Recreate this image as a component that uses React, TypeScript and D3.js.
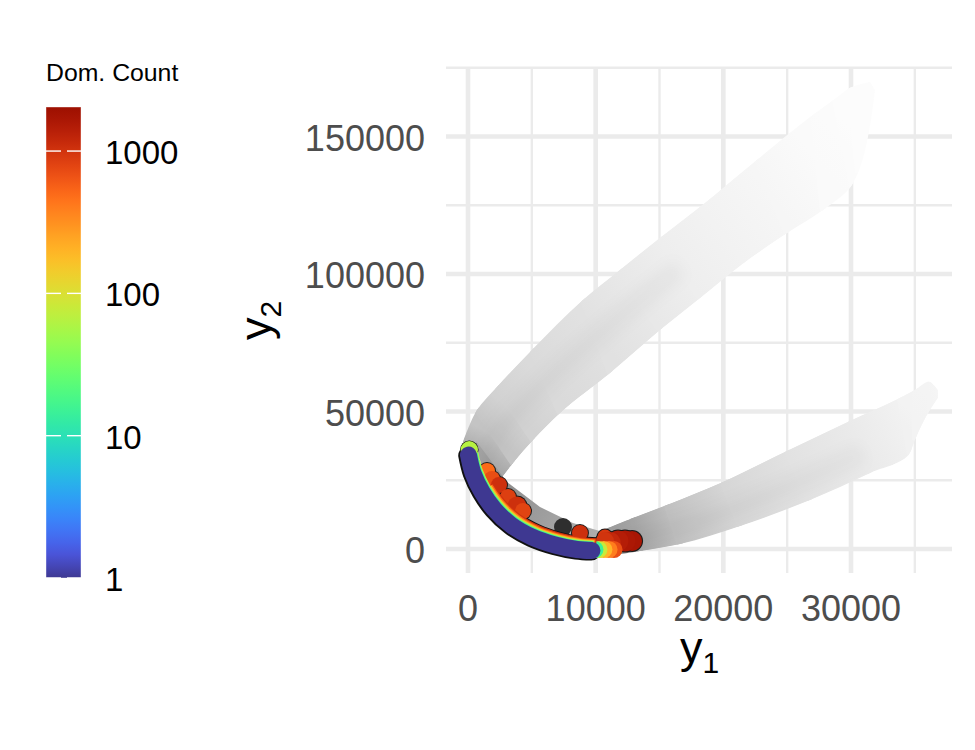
import React from "react";
import * as d3 from "d3";

const xMajor = [0, 10000, 20000, 30000];
const xMinor = [5000, 15000, 25000, 35000];
const yMajor = [0, 50000, 100000, 150000];
const yMinor = [25000, 75000, 125000, 175000];
const legendTicks = [1, 10, 100, 1000];
const legendMax = 2040;
const lowBlue = "#3e3891";

// upper arm of dominated points: edges and gray level at each station
const upperArmTopY1 = [-392, 705, 2270, 5010, 9005, 11900, 15030, 18170, 22630, 27010, 28740, 29900, 31480];
const upperArmTopY2 = [38900, 50540, 58900, 72360, 90540, 101450, 113100, 124350, 141450, 157800, 163600, 167600, 169800];
const upperArmLowY1 = [2505, 3520, 5090, 7200, 11120, 15030, 18170, 21690, 24980, 27800, 30070, 30540, 31870];
const upperArmLowY2 = [25090, 31270, 39630, 49450, 64000, 79630, 91270, 104360, 114900, 123260, 132360, 136700, 166900];
const upperArmGray = [168, 196, 210, 218, 225, 232, 238, 242, 246, 250, 251, 252, 252];

// lower arm
const lowerArmTopY1 = [10570, 12920, 15580, 19970, 24980, 29910, 33830, 35000, 36170, 36800];
const lowerArmTopY2 = [6910, 11270, 16000, 24360, 35630, 46540, 54900, 57800, 60720, 57800];
const lowerArmLowY1 = [9550, 13470, 16600, 21300, 26780, 31480, 34600, 35000, 36170, 36800];
const lowerArmLowY2 = [-3640, -730, 1820, 8360, 17820, 27630, 34900, 39630, 50540, 54900];
const lowerArmGray = [150, 165, 192, 214, 226, 234, 241, 243, 244, 245];

// gray wedge just above the front
const wedgeY1 = [630, 3050, 5640, 8220, 10570, 11300, 10100, 5640, 1640];
const wedgeY2 = [39270, 24360, 15270, 9450, 6180, 3270, -550, 4000, 17090];

// the front
const arcY1 = [40, 390, 1100, 2040, 3370, 5010, 6810, 8530, 9710];
const arcY2 = [34180, 27630, 20730, 14540, 8730, 4360, 1450, -180, -550];
const layerCounts = [1000, 500, 200, 60, 15, 1];
const layerShiftY1 = [330, 250, 170, 110, 50, 0];
const layerShiftY2 = [1350, 1050, 760, 480, 240, 0];

// red and orange clusters above the front
const blobY1 = [1490, 1880, 2430, 3130, 3840, 4310, 8770, 10730, 12850, 12300, 11750, 11100, 10730];
const blobY2 = [28360, 25450, 23270, 18900, 15640, 13820, 5820, 4360, 2910, 2910, 2900, 2180, 2910];
const blobCount = [500, 700, 1050, 850, 1050, 800, 1050, 950, 1700, 1600, 1450, 1200, 1000];
const blobSize = [8, 8, 8, 8, 9.5, 8, 8, 7.5, 10, 10.5, 10.5, 11, 9];

// nested end of the front
const tailY1 = [11430, 11040, 10640, 10250, 9940];
const tailY2 = [-180, -180, -180, -180, -180];
const tailCount = [700, 400, 200, 80, 15];

const darkY1 = [7440];
const darkY2 = [8000];

const x = d3.scaleLinear().domain([0, 30000]).range([468, 851]);
const y = d3.scaleLinear().domain([0, 150000]).range([549, 136.5]);
const leg = d3.scaleLog().domain([1, legendMax]).range([578, 107]);
const color = (c: number) => {
  const t = 0.05 + (0.9 * Math.log10(c)) / Math.log10(legendMax);
  return t < 0.09 ? d3.interpolateRgb(lowBlue, d3.interpolateTurbo(0.09))((t - 0.05) / 0.04) : d3.interpolateTurbo(t);
};
const font = "'Liberation Sans', Arial, sans-serif";
const fmt = (v: number) => String(v);

function Arm({ id, ty1, ty2, ly1, ly2, gray, core, coreEnd }: any) {
  const top = ty1.map((v: number, i: number) => [x(v), y(ty2[i])]);
  const low = ly1.map((v: number, i: number) => [x(v), y(ly2[i])]);
  const smooth = d3.line().curve(d3.curveCatmullRom.alpha(1));
  const outline = (smooth(top) as string) + "L" + (smooth([...low].reverse()) as string).slice(1) + "Z";
  const mid = top
    .map((t: number[], i: number) => [t[0] + (low[i][0] - t[0]) * core, t[1] + (low[i][1] - t[1]) * core])
    .slice(0, coreEnd);
  const quads = top.slice(0, -1).map((_: any, i: number) => {
    const a = [(top[i][0] + low[i][0]) / 2, (top[i][1] + low[i][1]) / 2];
    const b = [(top[i + 1][0] + low[i + 1][0]) / 2, (top[i + 1][1] + low[i + 1][1]) / 2];
    const c = d3.rgb(gray[i], gray[i], gray[i]).formatHex();
    const d = d3.rgb(gray[i + 1], gray[i + 1], gray[i + 1]).formatHex();
    return { i, a, b, c, d, p: [top[i], top[i + 1], low[i + 1], low[i]] };
  });
  return (
    <g>
      <defs>
        <clipPath id={id + "c"}>
          <path d={outline} />
        </clipPath>
        {quads.map((q: any) => (
          <linearGradient key={q.i} id={id + q.i} gradientUnits="userSpaceOnUse" x1={q.a[0]} y1={q.a[1]} x2={q.b[0]} y2={q.b[1]}>
            <stop offset="0" stopColor={q.c} />
            <stop offset="1" stopColor={q.d} />
          </linearGradient>
        ))}
      </defs>
      <g clipPath={`url(#${id}c)`}>
        {quads.map((q: any) => (
          <path key={q.i} d={"M" + q.p.join("L") + "Z"} fill={`url(#${id}${q.i})`} stroke={`url(#${id}${q.i})`} strokeWidth={6} />
        ))}
        <path d={smooth(mid) as string} fill="none" stroke="#000" strokeOpacity={0.03} strokeWidth={20} filter="url(#soft)" />
      </g>
    </g>
  );
}

export default function App() {
  const arcLine = (dx: number, dy: number, from = 0) =>
    d3
      .line<number>()
      .x((v) => x(v + dx))
      .y((_, i) => y(arcY2[i + from] + dy))
      .curve(d3.curveCatmullRom)(arcY1.slice(from)) as string;
  const stops = d3.range(0, 41).map((i) => i / 40);
  const wedge = wedgeY1.map((v, i) => [x(v), y(wedgeY2[i])]);
  return (
    <svg width={975} height={750} style={{ position: "absolute", left: 0, top: 0, background: "#fff" }} fontFamily={font}>
      <defs>
        <filter id="soft" x="-20%" y="-20%" width="140%" height="140%">
          <feGaussianBlur stdDeviation="7" />
        </filter>
        <linearGradient id="bar" x1="0" y1="1" x2="0" y2="0">
          {stops.map((t) => (
            <stop key={t} offset={t} stopColor={color(Math.pow(legendMax, t))} />
          ))}
        </linearGradient>
        <linearGradient id="wedgeG" gradientUnits="userSpaceOnUse" x1={470} y1={450} x2={610} y2={535}>
          <stop offset="0" stopColor="#a6a6a6" />
          <stop offset="0.3" stopColor="#8e8e8e" />
          <stop offset="0.7" stopColor="#a4a4a4" />
          <stop offset="1" stopColor="#b0b0b0" />
        </linearGradient>
      </defs>

      {/* grid */}
      <g stroke="#ebebeb" fill="none">
        {xMinor.map((v) => (
          <line key={v} x1={x(v)} x2={x(v)} y1={67} y2={573} strokeWidth={2.4} />
        ))}
        {yMinor.map((v) => (
          <line key={v} y1={y(v)} y2={y(v)} x1={446} x2={952} strokeWidth={2.4} />
        ))}
        {xMajor.map((v) => (
          <line key={v} x1={x(v)} x2={x(v)} y1={67} y2={573} strokeWidth={4.6} />
        ))}
        {yMajor.map((v) => (
          <line key={v} y1={y(v)} y2={y(v)} x1={446} x2={952} strokeWidth={4.6} />
        ))}
      </g>

      {/* clouds */}
      <Arm id="up" ty1={upperArmTopY1} ty2={upperArmTopY2} ly1={upperArmLowY1} ly2={upperArmLowY2} gray={upperArmGray} core={0.5} coreEnd={7} />
      <Arm id="lo" ty1={lowerArmTopY1} ty2={lowerArmTopY2} ly1={lowerArmLowY1} ly2={lowerArmLowY2} gray={lowerArmGray} core={0.62} coreEnd={6} />
      <path d={d3.line().curve(d3.curveLinear)(wedge as any) + "Z"} fill="url(#wedgeG)" />

      {/* dark and red clusters with their outline */}
      {darkY1.map((v, i) => (
        <circle key={i} cx={x(v)} cy={y(darkY2[i])} r={9} fill="#2e2e2e" />
      ))}
      {blobY1.map((v, i) => (
        <circle key={"k" + i} cx={x(v)} cy={y(blobY2[i])} r={blobSize[i] + 1} fill="#1a1a1a" />
      ))}
      <path d={arcLine(-60, -180)} fill="none" stroke="#111" strokeWidth={19} strokeLinecap="round" />
      <path d={arcLine(330, 1350, 2)} fill="none" stroke="#111" strokeWidth={19} />
      {blobY1.map((v, i) => (
        <circle key={"r" + i} cx={x(v)} cy={y(blobY2[i])} r={blobSize[i]} fill={color(blobCount[i])} />
      ))}
      <circle cx={x(arcY1[0] + 60)} cy={y(arcY2[0] + 1900)} r={9.3} fill="#111" />
      <circle cx={x(arcY1[0] + 60)} cy={y(arcY2[0] + 1900)} r={8.7} fill={color(65)} />

      {/* front with nested layers */}
      {tailY1.map((v, i) => (
        <circle key={"t" + i} cx={x(v)} cy={y(tailY2[i])} r={8.6} fill={color(tailCount[i])} />
      ))}
      {layerCounts.map((c, i) => (
        <path
          key={c}
          d={arcLine(layerShiftY1[i], layerShiftY2[i], i < 3 ? 2 : 0)}
          fill="none"
          stroke={color(c)}
          strokeWidth={17}
          strokeLinecap={i === layerCounts.length - 1 ? "round" : "butt"}
        />
      ))}

      {/* axes */}
      <g fill="#4d4d4d" fontSize={36}>
        {yMajor.map((v) => (
          <text key={v} x={425} y={y(v) + 14} textAnchor="end">
            {fmt(v)}
          </text>
        ))}
        {xMajor.map((v) => (
          <text key={v} x={x(v)} y={621} textAnchor="middle">
            {fmt(v)}
          </text>
        ))}
      </g>
      <text x={680} y={663} fontSize={45} fill="#000">
        y<tspan fontSize={30} dy={9.5}>1</tspan>
      </text>
      <text transform="translate(271,340) rotate(-90)" fontSize={45} fill="#000">
        y<tspan fontSize={30} dy={10}>2</tspan>
      </text>

      {/* legend */}
      <text x={46} y={80.5} fontSize={24.8} fill="#000">
        Dom. Count
      </text>
      <rect x={46} y={107} width={35} height={471} fill="url(#bar)" stroke="#fff" strokeOpacity={0.5} strokeWidth={0.8} />
      {legendTicks.map((v) => (
        <g key={v} stroke="#fff" strokeWidth={1.4}>
          <line x1={46} x2={61} y1={leg(v)} y2={leg(v)} />
          <line x1={67} x2={81} y1={leg(v)} y2={leg(v)} />
        </g>
      ))}
      <g fontSize={33} fill="#000">
        {legendTicks.map((v) => (
          <text key={v} x={105} y={leg(v) + 13}>
            {v}
          </text>
        ))}
      </g>
    </svg>
  );
}
